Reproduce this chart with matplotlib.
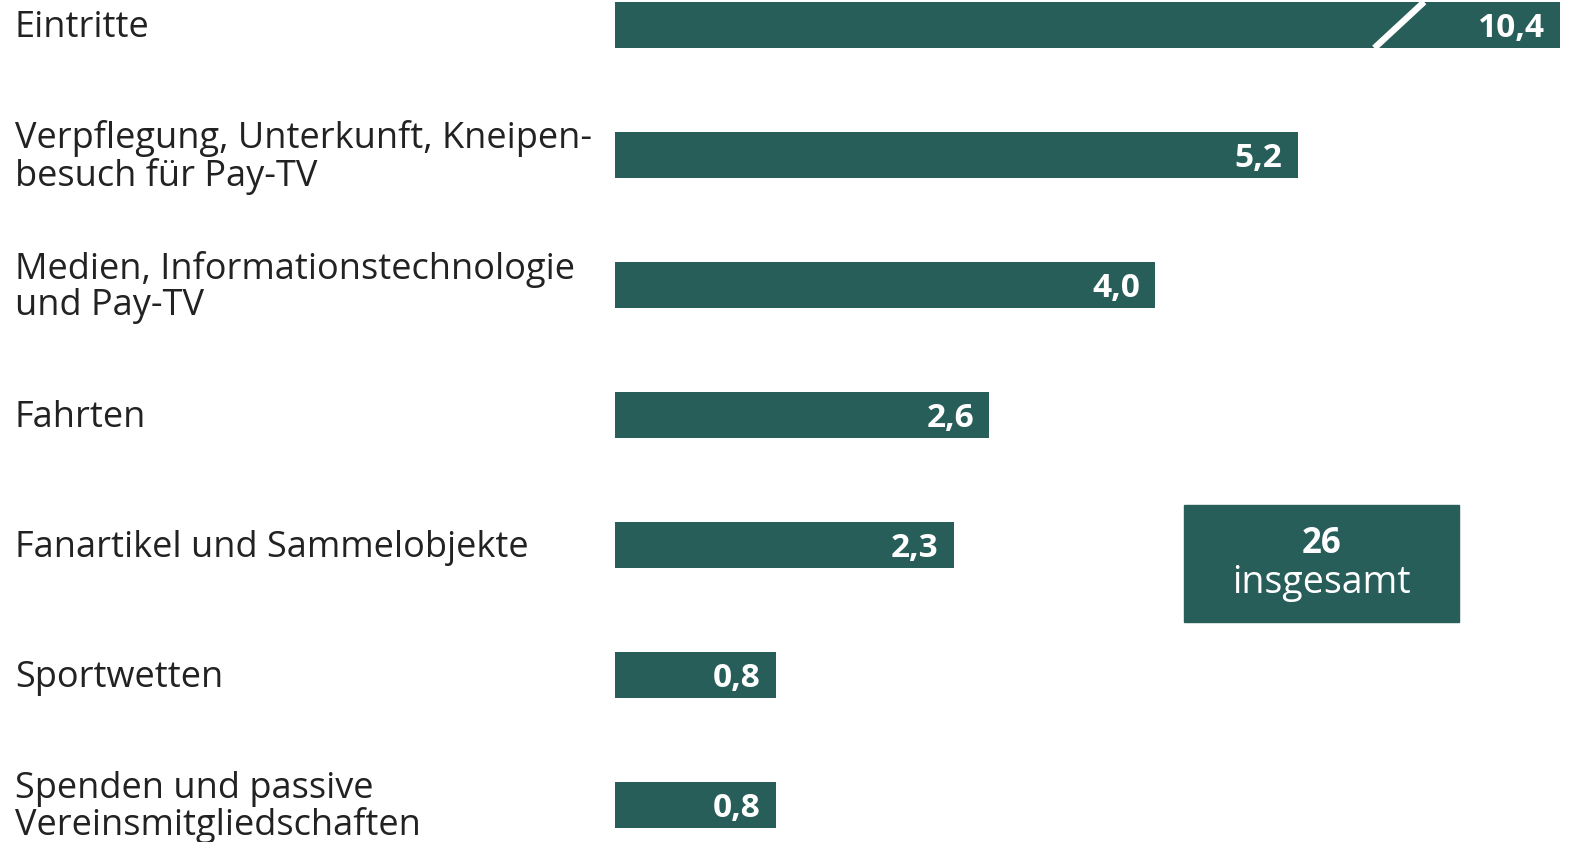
import matplotlib.pyplot as plt
from matplotlib.patches import Rectangle
import numpy as np

# Ausgaben der Fußballfans (Mrd. Euro)
categories = [
    "Eintritte",
    "Verpflegung, Unterkunft, Kneipen-\nbesuch für Pay-TV",
    "Medien, Informationstechnologie\nund Pay-TV",
    "Fahrten",
    "Fanartikel und Sammelobjekte",
    "Sportwetten",
    "Spenden und passive\nVereinsmitgliedschaften",
]
values = [10.4, 5.2, 4.0, 2.6, 2.3, 0.8, 0.8]
value_labels = ["10,4", "5,2", "4,0", "2,6", "2,3", "0,8", "0,8"]
total_value = "26"
total_label = "insgesamt"

color = "#285e5a"
plt.rcParams["font.family"] = ["Open Sans", "DejaVu Sans"]

W, H = 1569, 842
fig = plt.figure(figsize=(W / 100, H / 100), dpi=100)
ax = fig.add_axes([615 / W, 0, (1560 - 615) / W, 1])

x0 = -0.5565   # bars start a bit left of zero
xmax = 7.41    # longest bar is cut off here
ax.set_xlim(x0, xmax)
ax.set_ylim(6.285, -0.192)
ax.axis("off")

y = np.arange(len(values))
bar_h = 0.355
ax.barh(y, np.array(values) - x0, left=x0, height=bar_h, color=color)

for yi, v, lab in zip(y, values, value_labels):
    xe = min(v, xmax)
    ax.annotate(lab, (xe, yi), xytext=(-11, -2.5), textcoords="offset points",
                ha="right", va="center", color="white", fontsize=24,
                fontweight="bold")

# break mark on the cut bar
ax.plot([5.845, 6.265], [bar_h / 2, -bar_h / 2], color="white", lw=4.6,
        solid_capstyle="butt")

# category labels
label_x = x0 - 600 / 118.6
for yi, cat in zip(y, categories):
    ax.text(label_x, yi + 0.02, cat, ha="left", va="center", fontsize=26,
            color="#222222", linespacing=1.03, clip_on=False)

# total box
bx0, bx1, by0, by1 = 4.241, 6.56, 3.692, 4.592
ax.add_patch(Rectangle((bx0, by0), bx1 - bx0, by1 - by0, color=color,
                       clip_on=False))
ax.text((bx0 + bx1) / 2, 3.99, total_value, ha="center", va="center",
        color="white", fontsize=25, fontweight="bold")
ax.text((bx0 + bx1) / 2, 4.29, total_label, ha="center", va="center",
        color="white", fontsize=27)

fig.savefig("out.png", dpi=100)
